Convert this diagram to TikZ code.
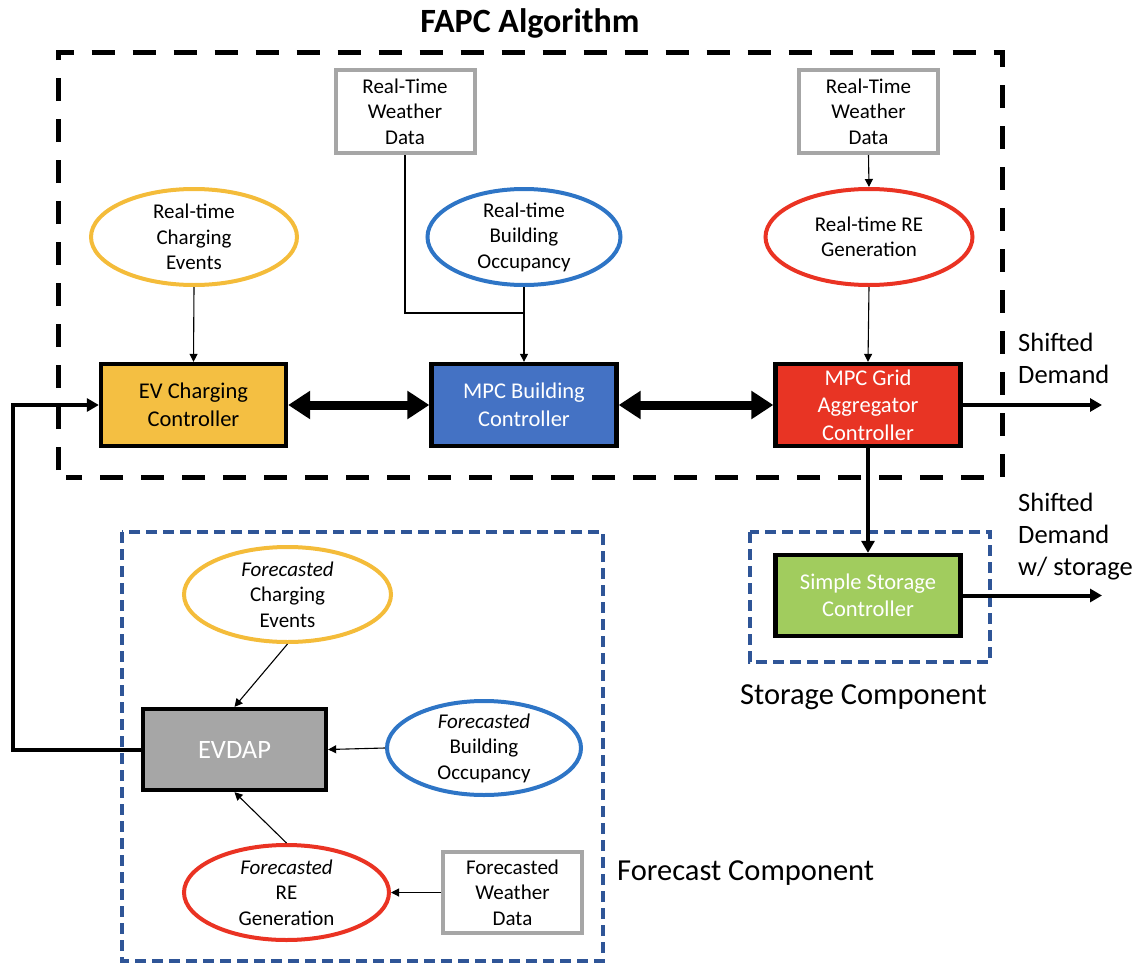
\documentclass[tikz,border=0pt]{standalone}
\usepackage{fontspec}
\setmainfont{Carlito}
\usetikzlibrary{shapes.geometric,arrows.meta}

\definecolor{evgold}{RGB}{244,191,66}
\definecolor{evring}{RGB}{244,188,58}
\definecolor{bldblue}{RGB}{68,114,196}
\definecolor{bldring}{RGB}{46,117,198}
\definecolor{gridred}{RGB}{232,52,36}
\definecolor{rering}{RGB}{234,51,35}
\definecolor{stogreen}{RGB}{161,204,94}
\definecolor{dapgray}{RGB}{166,166,166}
\definecolor{wxgray}{RGB}{166,166,166}
\definecolor{compblue}{RGB}{47,85,151}

\begin{document}
\begin{tikzpicture}[x=1pt,y=-1pt,
  ctrl/.style={draw=black, line width=4.3pt, minimum width=185pt, minimum height=82pt,
    inner sep=0pt, align=center, font=\fontsize{22.5}{27.5}\selectfont},
  wxbox/.style={draw=wxgray, line width=4pt, minimum width=139pt, minimum height=83pt,
    inner sep=0pt, align=center, font=\fontsize{21}{25.5}\selectfont},
  ring/.style={ellipse, line width=4pt, minimum height=96pt, inner sep=0pt},
  ringtext/.style={align=center, inner sep=0pt, font=\fontsize{21}{25.5}\selectfont},
  thinarrow/.style={line width=1.1pt, -{Triangle[length=8pt,width=8pt]}},
  thinline/.style={line width=1.1pt},
  thickarrow/.style={line width=4pt, -{Triangle[length=12pt,width=13pt]}},
  bidir/.style={line width=9pt, {Triangle[length=22pt,width=27pt]}-{Triangle[length=22pt,width=27pt]}},
  algobox/.style={line width=5pt, dash pattern=on 23pt off 18pt},
  compbox/.style={draw=compblue, line width=3.5pt, dash pattern=on 11pt off 6pt},
  biglabel/.style={font=\fontsize{30.5}{36}\selectfont, inner sep=0pt},
  outlabel/.style={font=\fontsize{26.5}{32}\selectfont, align=left, inner sep=0pt, anchor=west}
]
\useasboundingbox (0,0) rectangle (1136,964);

% ---- FAPC algorithm frame and title
\node[font=\fontsize{34}{40}\selectfont\bfseries, inner sep=0pt] (title) at (530,23) {FAPC Algorithm};
\draw[algobox] (58,470) -- (58,52.5) -- (1002,52.5) -- (1002,477) -- (66,477);

% ---- weather inputs
\node[wxbox] (wx1) at (405,111.5) {Real-Time\\Weather\\Data};
\node[wxbox] (wx2) at (868.5,111.5) {Real-Time\\Weather\\Data};

% ---- real-time inputs
\node[ring, draw=evring, minimum width=206pt] (yo) at (194,237) {};
\node[ringtext] (yot) at (yo) {Real-time\\Charging\\Events};
\node[ring, draw=bldring, minimum width=193pt] (bo) at (524,237) {};
\node[ringtext] (bot) at (bo) {Real-time\\Building\\Occupancy};
\node[ring, draw=rering, minimum width=207pt] (ro) at (869,237) {};
\node[ringtext] (rot) at (ro) {Real-time RE\\Generation};

% ---- controllers
\node[ctrl, fill=evgold] (ev) at (193.5,405) {EV Charging\\Controller};
\node[ctrl, fill=bldblue, text=white] (mpc) at (524,405) {MPC Building\\Controller};
\node[ctrl, fill=gridred, text=white] (grid) at (868,405) {MPC Grid\\Aggregator\\Controller};

% ---- storage component
\draw[compbox] (750,532) rectangle (990,662);
\node[ctrl, fill=stogreen, text=white, minimum height=81pt] (sto) at (868,595.5) {Simple Storage\\Controller};
\node[biglabel] (stolab) at (863.5,697) {Storage Component};

% ---- forecast component
\draw[compbox] (122,532) rectangle (603,961);
\node[biglabel, anchor=west] (fclab) at (617,873) {Forecast Component};
\node[ctrl, fill=dapgray, text=white, minimum width=183pt, minimum height=81pt,
  font=\fontsize{26.5}{30}\selectfont] (dap) at (234.5,749.5) {EVDAP};
\node[ring, draw=evring, minimum width=207pt, minimum height=95pt] (fyo) at (287.5,594.5) {};
\node[ringtext] (fyot) at (fyo) {\textit{Forecasted}\\Charging\\Events};
\node[ring, draw=bldring, minimum width=194pt, minimum height=94pt] (fbo) at (484,748) {};
\node[ringtext] (fbot) at (fbo) {\textit{Forecasted}\\Building\\Occupancy};
\node[ring, draw=rering, minimum width=205pt, minimum height=95pt] (fro) at (286.5,892.5) {};
\node[ringtext] (frot) at (fro) {\textit{Forecasted}\\RE\\Generation};
\node[wxbox, minimum height=81pt] (fwx) at (512.5,892.5) {Forecasted\\Weather\\Data};

% ---- outputs
\coordinate (out1) at (1102,405);
\coordinate (out2) at (1102,595.5);
\node[outlabel] (lab1) at (1018,358.5) {Shifted\\Demand};
\node[outlabel] (lab2) at (1018,536.5) {Shifted\\Demand\\w/ storage};

% ---- connectors
\coordinate (jn) at (524,313);
\draw[thinline] (wx1.south) |- (jn);
\draw[thinarrow] (yo.south) -- (ev.north);
\draw[thinarrow] (bo.south) -- (mpc.north);
\draw[thinarrow] (wx2.south) -- (ro.north);
\draw[thinarrow] (ro.south) -- (grid.north);

\draw[bidir] (ev.east) -- (mpc.west);
\draw[bidir] (mpc.east) -- (grid.west);

\draw[thickarrow] (grid.east) -- (out1);
\draw[thickarrow] (grid.south) -- (sto.north);
\draw[thickarrow] (sto.east) -- (out2);

\coordinate (fb) at (13,405);
\draw[thickarrow] (dap.west) -| (fb) -- (ev.west);

\draw[thinarrow] (fyo.south) -- (dap.north);
\draw[thinarrow] (fbo.west) -- (dap.east);
\draw[thinarrow] (fro.north) -- (dap.south);
\draw[thinarrow] (fwx.west) -- (fro.east);
\end{tikzpicture}
\end{document}
